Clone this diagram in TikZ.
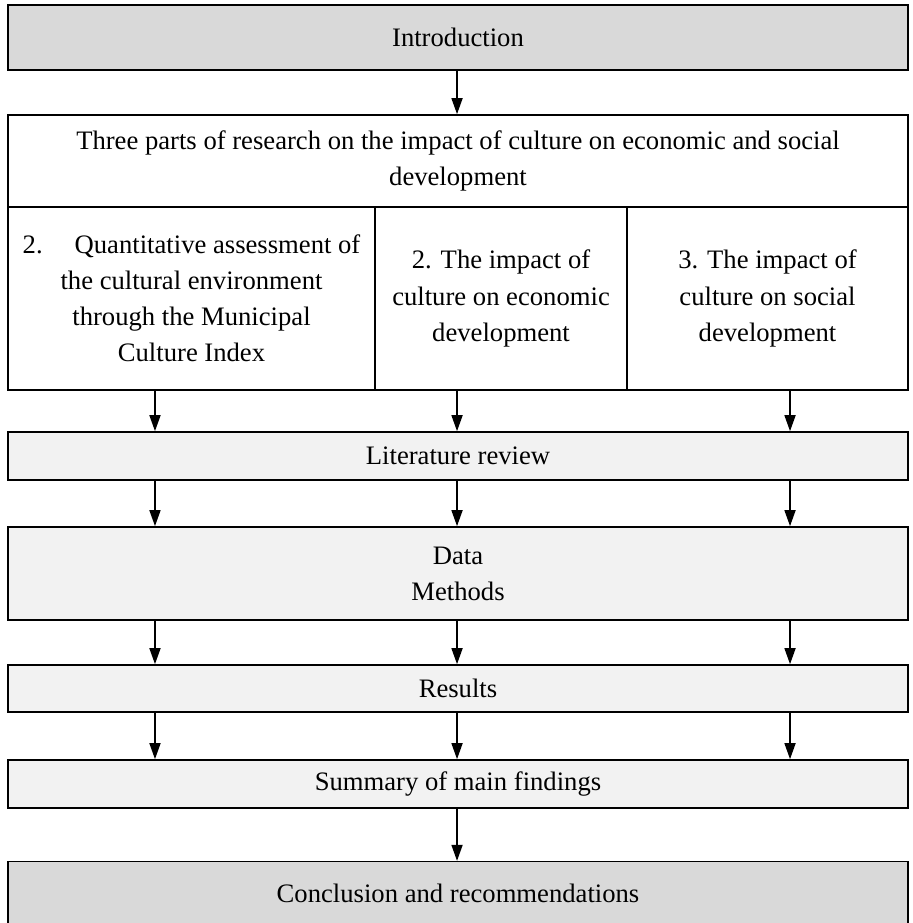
\documentclass[tikz,border=0pt]{standalone}
\usepackage{fontspec}
\setmainfont{Liberation Serif}
\usetikzlibrary{arrows.meta}
\definecolor{headgray}{HTML}{D9D9D9}
\definecolor{stepgray}{HTML}{F2F2F2}

\begin{document}
\begin{tikzpicture}[
  font=\fontsize{13.3}{18}\selectfont,
  bar/.style={draw, fill=#1, line width=0.8pt, minimum width=15.79cm, inner sep=0pt, align=center},
  part/.style={draw, line width=0.6pt, minimum height=3.211cm, inner sep=0pt, align=center},
  flow/.style={-{Triangle[length=8pt,width=5.5pt]}, line width=0.8pt}
]
\useasboundingbox (0,0) rectangle (16,16.193);

\coordinate (laneL) at (2.719,0);
\coordinate (laneM) at (8.018,0);
\coordinate (laneR) at (13.860,0);

\node[bar=headgray, minimum height=1.14cm] (intro) at (8.035,15.535) {Introduction};
\node[bar=white, minimum height=1.614cm] (parts) at (8.035,13.369) {Three parts of research on the impact of culture on economic and social\\development};

\node[part, minimum width=6.439cm] (index) at (3.360,10.956) {2.\hspace{1.2em}Quantitative assessment of\\the cultural environment\\through the Municipal\\Culture Index};
\node[part, minimum width=4.421cm] (econ) at (8.790,10.956) {2. The impact of\\culture on economic\\development};
\node[part, minimum width=4.930cm] (social) at (13.465,10.956) {3. The impact of\\culture on social\\development};

\node[bar=stepgray, minimum height=0.842cm] (lit) at (8.035,8.193) {Literature review};
\node[bar=stepgray, minimum height=1.632cm] (data) at (8.035,6.132) {Data\\Methods};
\node[bar=stepgray, minimum height=0.825cm] (res) at (8.035,4.114) {Results};
\node[bar=stepgray, minimum height=0.842cm] (sum) at (8.035,2.439) {Summary of main findings};
\node[bar=headgray, minimum height=1.1cm] (concl) at (8.035,0.526) {Conclusion and recommendations};

\draw[flow] (intro.south -| laneM) -- (parts.north -| laneM);
\foreach \lane in {laneL,laneM,laneR}
  \draw[flow] (index.south -| \lane) -- (lit.north -| \lane);
\foreach \a/\b in {lit/data,data/res,res/sum}
  \foreach \lane in {laneL,laneM,laneR}
    \draw[flow] (\a.south -| \lane) -- (\b.north -| \lane);
\draw[flow] (sum.south -| laneM) -- (concl.north -| laneM);
\end{tikzpicture}
\end{document}
